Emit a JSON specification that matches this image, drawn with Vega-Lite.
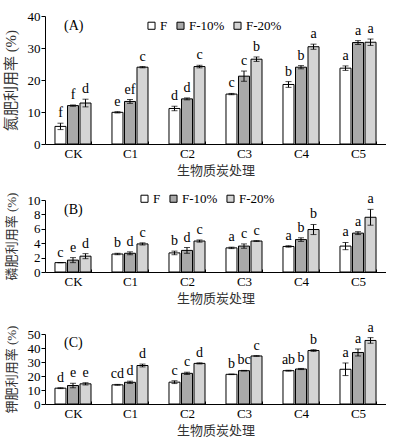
{
  "$schema": "https://vega.github.io/schema/vega-lite/v6.json",
  "padding": {"left": 3, "top": 10, "right": 0, "bottom": 0},
  "background": "white",
  "datasets": {
    "d": [
      {"panel":"A","trt":"CK","s":"F","v":5.5,"lo":4.5,"hi":6.5,"lab":"f"},
      {"panel":"A","trt":"CK","s":"F-10%","v":12.0,"lo":11.8,"hi":12.2,"lab":"f"},
      {"panel":"A","trt":"CK","s":"F-20%","v":12.8,"lo":11.6,"hi":14.0,"lab":"d"},
      {"panel":"A","trt":"C1","s":"F","v":9.9,"lo":9.7,"hi":10.1,"lab":"e"},
      {"panel":"A","trt":"C1","s":"F-10%","v":13.3,"lo":12.7,"hi":13.9,"lab":"ef"},
      {"panel":"A","trt":"C1","s":"F-20%","v":24.0,"lo":23.8,"hi":24.2,"lab":"c"},
      {"panel":"A","trt":"C2","s":"F","v":11.1,"lo":10.4,"hi":11.8,"lab":"d"},
      {"panel":"A","trt":"C2","s":"F-10%","v":14.1,"lo":13.8,"hi":14.4,"lab":"d"},
      {"panel":"A","trt":"C2","s":"F-20%","v":24.2,"lo":23.8,"hi":24.6,"lab":"c"},
      {"panel":"A","trt":"C3","s":"F","v":15.6,"lo":15.4,"hi":15.8,"lab":"c"},
      {"panel":"A","trt":"C3","s":"F-10%","v":21.2,"lo":19.6,"hi":22.8,"lab":"c"},
      {"panel":"A","trt":"C3","s":"F-20%","v":26.5,"lo":25.8,"hi":27.2,"lab":"b"},
      {"panel":"A","trt":"C4","s":"F","v":18.6,"lo":17.7,"hi":19.5,"lab":"b"},
      {"panel":"A","trt":"C4","s":"F-10%","v":24.0,"lo":23.5,"hi":24.5,"lab":"b"},
      {"panel":"A","trt":"C4","s":"F-20%","v":30.4,"lo":29.6,"hi":31.2,"lab":"a"},
      {"panel":"A","trt":"C5","s":"F","v":23.7,"lo":23.0,"hi":24.4,"lab":"a"},
      {"panel":"A","trt":"C5","s":"F-10%","v":31.7,"lo":31.1,"hi":32.3,"lab":"a"},
      {"panel":"A","trt":"C5","s":"F-20%","v":31.8,"lo":30.8,"hi":32.8,"lab":"a"},
      {"panel":"B","trt":"CK","s":"F","v":1.3,"lo":1.3,"hi":1.3,"lab":"c"},
      {"panel":"B","trt":"CK","s":"F-10%","v":1.65,"lo":1.3,"hi":2.0,"lab":"e"},
      {"panel":"B","trt":"CK","s":"F-20%","v":2.2,"lo":1.85,"hi":2.55,"lab":"d"},
      {"panel":"B","trt":"C1","s":"F","v":2.5,"lo":2.4,"hi":2.6,"lab":"b"},
      {"panel":"B","trt":"C1","s":"F-10%","v":2.6,"lo":2.4,"hi":2.8,"lab":"d"},
      {"panel":"B","trt":"C1","s":"F-20%","v":3.9,"lo":3.75,"hi":4.05,"lab":"c"},
      {"panel":"B","trt":"C2","s":"F","v":2.65,"lo":2.4,"hi":2.9,"lab":"b"},
      {"panel":"B","trt":"C2","s":"F-10%","v":3.0,"lo":2.6,"hi":3.4,"lab":"d"},
      {"panel":"B","trt":"C2","s":"F-20%","v":4.3,"lo":4.15,"hi":4.45,"lab":"c"},
      {"panel":"B","trt":"C3","s":"F","v":3.35,"lo":3.25,"hi":3.45,"lab":"a"},
      {"panel":"B","trt":"C3","s":"F-10%","v":3.6,"lo":3.3,"hi":3.9,"lab":"c"},
      {"panel":"B","trt":"C3","s":"F-20%","v":4.3,"lo":4.25,"hi":4.35,"lab":"c"},
      {"panel":"B","trt":"C4","s":"F","v":3.55,"lo":3.45,"hi":3.65,"lab":"a"},
      {"panel":"B","trt":"C4","s":"F-10%","v":4.5,"lo":4.25,"hi":4.75,"lab":"b"},
      {"panel":"B","trt":"C4","s":"F-20%","v":5.9,"lo":5.2,"hi":6.6,"lab":"b"},
      {"panel":"B","trt":"C5","s":"F","v":3.6,"lo":3.1,"hi":4.1,"lab":"a"},
      {"panel":"B","trt":"C5","s":"F-10%","v":5.4,"lo":5.2,"hi":5.6,"lab":"a"},
      {"panel":"B","trt":"C5","s":"F-20%","v":7.6,"lo":6.5,"hi":8.7,"lab":"a"},
      {"panel":"C","trt":"CK","s":"F","v":11.3,"lo":11.0,"hi":11.6,"lab":"d"},
      {"panel":"C","trt":"CK","s":"F-10%","v":13.2,"lo":11.6,"hi":14.8,"lab":"e"},
      {"panel":"C","trt":"CK","s":"F-20%","v":14.4,"lo":13.6,"hi":15.2,"lab":"e"},
      {"panel":"C","trt":"C1","s":"F","v":13.7,"lo":13.4,"hi":14.0,"lab":"cd"},
      {"panel":"C","trt":"C1","s":"F-10%","v":15.5,"lo":14.7,"hi":16.3,"lab":"d"},
      {"panel":"C","trt":"C1","s":"F-20%","v":27.5,"lo":26.5,"hi":28.5,"lab":"d"},
      {"panel":"C","trt":"C2","s":"F","v":15.6,"lo":14.6,"hi":16.6,"lab":"c"},
      {"panel":"C","trt":"C2","s":"F-10%","v":21.9,"lo":21.1,"hi":22.7,"lab":"c"},
      {"panel":"C","trt":"C2","s":"F-20%","v":29.0,"lo":28.6,"hi":29.4,"lab":"d"},
      {"panel":"C","trt":"C3","s":"F","v":21.2,"lo":21.0,"hi":21.4,"lab":"b"},
      {"panel":"C","trt":"C3","s":"F-10%","v":23.8,"lo":23.6,"hi":24.0,"lab":"bc"},
      {"panel":"C","trt":"C3","s":"F-20%","v":34.3,"lo":34.1,"hi":34.5,"lab":"c"},
      {"panel":"C","trt":"C4","s":"F","v":23.8,"lo":23.5,"hi":24.1,"lab":"ab"},
      {"panel":"C","trt":"C4","s":"F-10%","v":25.0,"lo":24.6,"hi":25.4,"lab":"b"},
      {"panel":"C","trt":"C4","s":"F-20%","v":38.2,"lo":37.6,"hi":38.8,"lab":"b"},
      {"panel":"C","trt":"C5","s":"F","v":24.8,"lo":20.3,"hi":29.3,"lab":"a"},
      {"panel":"C","trt":"C5","s":"F-10%","v":36.8,"lo":34.3,"hi":39.3,"lab":"a"},
      {"panel":"C","trt":"C5","s":"F-20%","v":45.4,"lo":43.4,"hi":47.4,"lab":"a"}
    ]
  },
  "vconcat": [
    {
      "width": 341, "height": 128,
      "layer": [
        {
          "data": {"name": "d"},
          "transform": [{"filter": "datum.panel == 'A'"}],
          "mark": {"type": "bar", "stroke": "black", "strokeWidth": 1},
          "encoding": {
            "x": {"field": "trt", "type": "nominal", "sort": ["CK","C1","C2","C3","C4","C5"], "scale": {"paddingInner": 0.368, "paddingOuter": 0.175}, "axis": {"title": "生物质炭处理", "labelAngle": 0, "tickBand": "extent"}},
            "xOffset": {"field": "s", "type": "nominal", "sort": ["F","F-10%","F-20%"], "scale": {"paddingInner": 0.12}},
            "y": {"field": "v", "type": "quantitative", "scale": {"domain": [0, 40]}, "axis": {"title": "氮肥利用率 (%)", "values": [0,10,20,30,40], "titleFontSize": 15}},
            "fill": {"field": "s", "type": "nominal", "sort": ["F","F-10%","F-20%"], "scale": {"domain": ["F","F-10%","F-20%"], "range": ["#ffffff","#a9a9a9","#d4d4d4"]}, "legend": {"title": null, "orient": "none", "direction": "horizontal", "legendX": 100, "legendY": 3}}
          }
        },
        {
          "data": {"name": "d"},
          "transform": [{"filter": "datum.panel == 'A'"}],
          "mark": {"type": "rule", "color": "black", "strokeWidth": 1},
          "encoding": {
            "x": {"field": "trt", "type": "nominal", "sort": ["CK","C1","C2","C3","C4","C5"]},
            "xOffset": {"field": "s", "type": "nominal", "sort": ["F","F-10%","F-20%"]},
            "y": {"field": "lo", "type": "quantitative", "axis": {"title": "氮肥利用率 (%)", "values": [0,10,20,30,40], "titleFontSize": 15}},
            "y2": {"field": "hi"}
          }
        },
        {
          "data": {"name": "d"},
          "transform": [{"filter": "datum.panel == 'A'"}],
          "mark": {"type": "tick", "color": "black", "thickness": 1, "size": 6, "orient": "horizontal"},
          "encoding": {
            "x": {"field": "trt", "type": "nominal", "sort": ["CK","C1","C2","C3","C4","C5"]},
            "xOffset": {"field": "s", "type": "nominal", "sort": ["F","F-10%","F-20%"]},
            "y": {"field": "hi", "type": "quantitative", "axis": {"title": "氮肥利用率 (%)", "values": [0,10,20,30,40], "titleFontSize": 15}}
          }
        },
        {
          "data": {"name": "d"},
          "transform": [{"filter": "datum.panel == 'A'"}],
          "mark": {"type": "tick", "color": "black", "thickness": 1, "size": 6, "orient": "horizontal"},
          "encoding": {
            "x": {"field": "trt", "type": "nominal", "sort": ["CK","C1","C2","C3","C4","C5"]},
            "xOffset": {"field": "s", "type": "nominal", "sort": ["F","F-10%","F-20%"]},
            "y": {"field": "lo", "type": "quantitative", "axis": {"title": "氮肥利用率 (%)", "values": [0,10,20,30,40], "titleFontSize": 15}}
          }
        },
        {
          "data": {"name": "d"},
          "transform": [{"filter": "datum.panel == 'A'"}],
          "mark": {"type": "text", "baseline": "bottom", "dy": -3, "fontSize": 14},
          "encoding": {
            "x": {"field": "trt", "type": "nominal", "sort": ["CK","C1","C2","C3","C4","C5"]},
            "xOffset": {"field": "s", "type": "nominal", "sort": ["F","F-10%","F-20%"]},
            "y": {"field": "hi", "type": "quantitative", "axis": {"title": "氮肥利用率 (%)", "values": [0,10,20,30,40], "titleFontSize": 15}},
            "text": {"field": "lab"}
          }
        },
        {
          "data": {"values": [{"p": "(A)", "trt": "CK", "yy": 37}]},
          "mark": {"type": "text", "align": "left", "baseline": "middle", "fontSize": 14, "dx": 9},
          "encoding": {
            "x": {"field": "trt", "type": "nominal", "sort": ["CK","C1","C2","C3","C4","C5"], "bandPosition": 0},
            "y": {"field": "yy", "type": "quantitative", "axis": {"title": "氮肥利用率 (%)", "values": [0,10,20,30,40], "titleFontSize": 15}},
            "text": {"field": "p"}
          }
        }
      ]
    },
    {
      "vconcat": [
        {
          "width": 341, "height": 72,
          "layer": [
            {
              "data": {"name": "d"},
              "transform": [{"filter": "datum.panel == 'B'"}],
              "mark": {"type": "bar", "stroke": "black", "strokeWidth": 1},
              "encoding": {
                "x": {"field": "trt", "type": "nominal", "sort": ["CK","C1","C2","C3","C4","C5"], "scale": {"paddingInner": 0.368, "paddingOuter": 0.175}, "axis": {"title": "生物质炭处理", "labelAngle": 0, "tickBand": "extent"}},
                "xOffset": {"field": "s", "type": "nominal", "sort": ["F","F-10%","F-20%"], "scale": {"paddingInner": 0.12}},
                "y": {"field": "v", "type": "quantitative", "scale": {"domain": [0, 10]}, "axis": {"title": "磷肥利用率 (%)", "values": [0,2,4,6,8,10]}},
                "fill": {"field": "s", "type": "nominal", "sort": ["F","F-10%","F-20%"], "scale": {"domain": ["F","F-10%","F-20%"], "range": ["#ffffff","#a9a9a9","#d4d4d4"]}, "legend": {"title": null, "orient": "none", "direction": "horizontal", "legendX": 93, "legendY": -8}}
              }
            },
            {
              "data": {"name": "d"},
              "transform": [{"filter": "datum.panel == 'B'"}],
              "mark": {"type": "rule", "color": "black", "strokeWidth": 1},
              "encoding": {
                "x": {"field": "trt", "type": "nominal", "sort": ["CK","C1","C2","C3","C4","C5"]},
                "xOffset": {"field": "s", "type": "nominal", "sort": ["F","F-10%","F-20%"]},
                "y": {"field": "lo", "type": "quantitative", "axis": {"title": "磷肥利用率 (%)", "values": [0,2,4,6,8,10]}},
                "y2": {"field": "hi"}
              }
            },
            {
              "data": {"name": "d"},
              "transform": [{"filter": "datum.panel == 'B'"}],
              "mark": {"type": "tick", "color": "black", "thickness": 1, "size": 6, "orient": "horizontal"},
              "encoding": {
                "x": {"field": "trt", "type": "nominal", "sort": ["CK","C1","C2","C3","C4","C5"]},
                "xOffset": {"field": "s", "type": "nominal", "sort": ["F","F-10%","F-20%"]},
                "y": {"field": "hi", "type": "quantitative", "axis": {"title": "磷肥利用率 (%)", "values": [0,2,4,6,8,10]}}
              }
            },
            {
              "data": {"name": "d"},
              "transform": [{"filter": "datum.panel == 'B'"}],
              "mark": {"type": "tick", "color": "black", "thickness": 1, "size": 6, "orient": "horizontal"},
              "encoding": {
                "x": {"field": "trt", "type": "nominal", "sort": ["CK","C1","C2","C3","C4","C5"]},
                "xOffset": {"field": "s", "type": "nominal", "sort": ["F","F-10%","F-20%"]},
                "y": {"field": "lo", "type": "quantitative", "axis": {"title": "磷肥利用率 (%)", "values": [0,2,4,6,8,10]}}
              }
            },
            {
              "data": {"name": "d"},
              "transform": [{"filter": "datum.panel == 'B'"}],
              "mark": {"type": "text", "baseline": "bottom", "dy": -3, "fontSize": 14},
              "encoding": {
                "x": {"field": "trt", "type": "nominal", "sort": ["CK","C1","C2","C3","C4","C5"]},
                "xOffset": {"field": "s", "type": "nominal", "sort": ["F","F-10%","F-20%"]},
                "y": {"field": "hi", "type": "quantitative", "axis": {"title": "磷肥利用率 (%)", "values": [0,2,4,6,8,10]}},
                "text": {"field": "lab"}
              }
            },
            {
              "data": {"values": [{"p": "(B)", "trt": "CK", "yy": 8.6}]},
              "mark": {"type": "text", "align": "left", "baseline": "middle", "fontSize": 14, "dx": 9},
              "encoding": {
                "x": {"field": "trt", "type": "nominal", "sort": ["CK","C1","C2","C3","C4","C5"], "bandPosition": 0},
                "y": {"field": "yy", "type": "quantitative", "axis": {"title": "磷肥利用率 (%)", "values": [0,2,4,6,8,10]}},
                "text": {"field": "p"}
              }
            }
          ]
        },
        {
          "width": 341, "height": 70,
          "layer": [
            {
              "data": {"name": "d"},
              "transform": [{"filter": "datum.panel == 'C'"}],
              "mark": {"type": "bar", "stroke": "black", "strokeWidth": 1},
              "encoding": {
                "x": {"field": "trt", "type": "nominal", "sort": ["CK","C1","C2","C3","C4","C5"], "scale": {"paddingInner": 0.368, "paddingOuter": 0.175}, "axis": {"title": "生物质炭处理", "labelAngle": 0, "tickBand": "extent"}},
                "xOffset": {"field": "s", "type": "nominal", "sort": ["F","F-10%","F-20%"], "scale": {"paddingInner": 0.12}},
                "y": {"field": "v", "type": "quantitative", "scale": {"domain": [0, 50]}, "axis": {"title": "钾肥利用率 (%)", "values": [0,10,20,30,40,50]}},
                "fill": {"field": "s", "type": "nominal", "sort": ["F","F-10%","F-20%"], "scale": {"domain": ["F","F-10%","F-20%"], "range": ["#ffffff","#a9a9a9","#d4d4d4"]}, "legend": {"title": null, "orient": "none", "direction": "horizontal", "legendX": 91, "legendY": -11}}
              }
            },
            {
              "data": {"name": "d"},
              "transform": [{"filter": "datum.panel == 'C'"}],
              "mark": {"type": "rule", "color": "black", "strokeWidth": 1},
              "encoding": {
                "x": {"field": "trt", "type": "nominal", "sort": ["CK","C1","C2","C3","C4","C5"]},
                "xOffset": {"field": "s", "type": "nominal", "sort": ["F","F-10%","F-20%"]},
                "y": {"field": "lo", "type": "quantitative", "axis": {"title": "钾肥利用率 (%)", "values": [0,10,20,30,40,50]}},
                "y2": {"field": "hi"}
              }
            },
            {
              "data": {"name": "d"},
              "transform": [{"filter": "datum.panel == 'C'"}],
              "mark": {"type": "tick", "color": "black", "thickness": 1, "size": 6, "orient": "horizontal"},
              "encoding": {
                "x": {"field": "trt", "type": "nominal", "sort": ["CK","C1","C2","C3","C4","C5"]},
                "xOffset": {"field": "s", "type": "nominal", "sort": ["F","F-10%","F-20%"]},
                "y": {"field": "hi", "type": "quantitative", "axis": {"title": "钾肥利用率 (%)", "values": [0,10,20,30,40,50]}}
              }
            },
            {
              "data": {"name": "d"},
              "transform": [{"filter": "datum.panel == 'C'"}],
              "mark": {"type": "tick", "color": "black", "thickness": 1, "size": 6, "orient": "horizontal"},
              "encoding": {
                "x": {"field": "trt", "type": "nominal", "sort": ["CK","C1","C2","C3","C4","C5"]},
                "xOffset": {"field": "s", "type": "nominal", "sort": ["F","F-10%","F-20%"]},
                "y": {"field": "lo", "type": "quantitative", "axis": {"title": "钾肥利用率 (%)", "values": [0,10,20,30,40,50]}}
              }
            },
            {
              "data": {"name": "d"},
              "transform": [{"filter": "datum.panel == 'C'"}],
              "mark": {"type": "text", "baseline": "bottom", "dy": -3, "fontSize": 14},
              "encoding": {
                "x": {"field": "trt", "type": "nominal", "sort": ["CK","C1","C2","C3","C4","C5"]},
                "xOffset": {"field": "s", "type": "nominal", "sort": ["F","F-10%","F-20%"]},
                "y": {"field": "hi", "type": "quantitative", "axis": {"title": "钾肥利用率 (%)", "values": [0,10,20,30,40,50]}},
                "text": {"field": "lab"}
              }
            },
            {
              "data": {"values": [{"p": "(C)", "trt": "CK", "yy": 43.6}]},
              "mark": {"type": "text", "align": "left", "baseline": "middle", "fontSize": 14, "dx": 9},
              "encoding": {
                "x": {"field": "trt", "type": "nominal", "sort": ["CK","C1","C2","C3","C4","C5"], "bandPosition": 0},
                "y": {"field": "yy", "type": "quantitative", "axis": {"title": "钾肥利用率 (%)", "values": [0,10,20,30,40,50]}},
                "text": {"field": "p"}
              }
            }
          ]
        }
      ],
      "spacing": 62,
      "bounds": "flush"
    }
  ],
  "spacing": 56,
  "bounds": "flush",
  "resolve": {"scale": {"fill": "independent"}, "legend": {"fill": "independent"}},
  "config": {
    "font": "Liberation Serif, Times New Roman, serif",
    "view": {"stroke": null},
    "text": {"font": "Liberation Serif, Times New Roman, serif", "color": "black"},
    "axis": {
      "grid": false,
      "domainColor": "black",
      "tickColor": "black",
      "labelColor": "black",
      "labelFont": "Liberation Serif, Times New Roman, serif",
      "labelFontSize": 13,
      "labelOverlap": false,
      "titleFont": "Liberation Serif, Times New Roman, Noto Sans CJK SC, serif",
      "titleFontWeight": "normal",
      "titleFontSize": 13,
      "titleColor": "#333333"
    },
    "axisX": {"titlePadding": 4, "tickSize": -3, "labelPadding": 6},
    "axisY": {"titlePadding": 9, "tickSize": 4, "labelPadding": 1},
    "legend": {
      "labelFont": "Liberation Serif, Times New Roman, serif",
      "labelFontSize": 13,
      "labelColor": "black",
      "symbolType": "square",
      "symbolSize": 50,
      "symbolStrokeColor": "black",
      "symbolStrokeWidth": 1,
      "labelOffset": 2,
      "columnPadding": 6,
      "padding": 0
    }
  }
}
